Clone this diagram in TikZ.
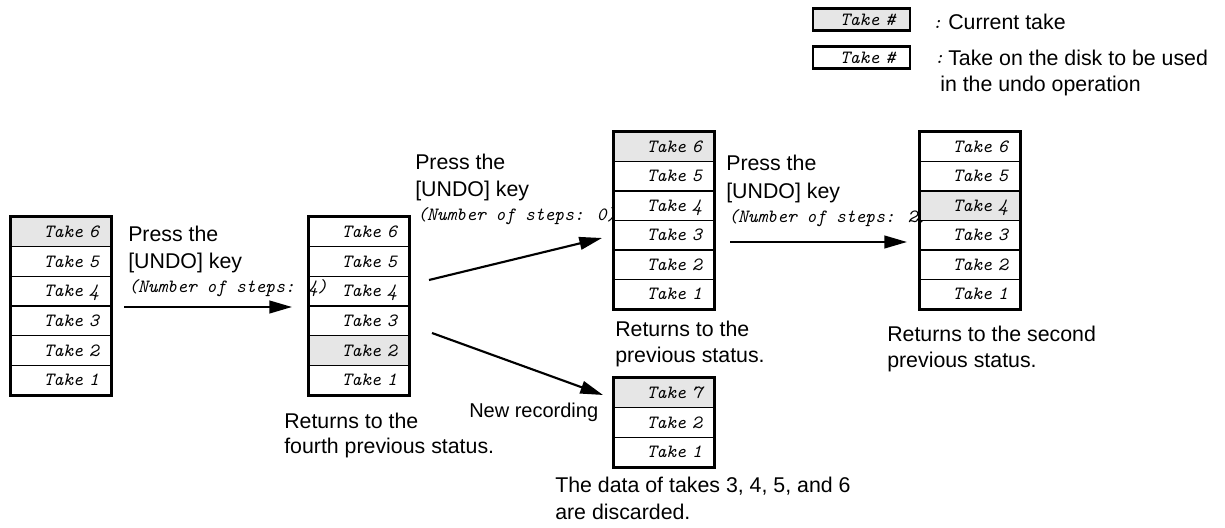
\documentclass[tikz,border=0pt]{standalone}
\usepackage{fontspec}
\setmainfont{Liberation Sans}
\usetikzlibrary{arrows.meta}
\definecolor{cellgray}{RGB}{230,230,230}
\tikzset{
  plain/.style={draw, line width=0.9pt, minimum width=75pt, minimum height=22.25pt,
    inner xsep=9pt, inner ysep=0pt, text width=57pt, align=right,
    font=\fontsize{14}{14}\selectfont\ttfamily\itshape, text height=8.4pt, text depth=0pt},
  cur/.style={plain, fill=cellgray},
  outer/.style={line width=2.2pt},
  legendbox/.style={plain, line width=2.2pt, minimum width=72.75pt, minimum height=17pt,
    text width=50.75pt, inner xsep=11pt},
  arr/.style={line width=1.6pt, -{Triangle[length=17pt,width=9.5pt]}},
  lbl/.style={anchor=base west, inner sep=0pt, font=\fontsize{16}{18}\selectfont},
  mono/.style={anchor=base west, inner sep=0pt, font=\fontsize{14}{15}\selectfont\ttfamily\itshape},
}
\begin{document}
\begin{tikzpicture}[x=0.75pt,y=-0.75pt]
\clip (0,0) rectangle (1225,528);
% ---- labels (drawn first, boxes lie over them)
\node[lbl] (p1a) at (128,241) {Press the};
\node[lbl] (p1b) at (128,268) {[UNDO] key};
\node[mono] (p1c) at (128,292) {(Number of steps: 4)};
\node[lbl] (p2a) at (415,169) {Press the};
\node[lbl] (p2b) at (415,196) {[UNDO] key};
\node[mono] (p2c) at (417,220) {(Number of steps: 0)};
\node[lbl] (p3a) at (726,171) {Press the};
\node[lbl] (p3b) at (726,198) {[UNDO] key};
\node[mono] (p3c) at (728,222) {(Number of steps: 2)};
\node[lbl] (r2a) at (284,428) {Returns to the};
\node[lbl] (r2b) at (284,453) {fourth previous status.};
\node[lbl] (r3a) at (615,336) {Returns to the};
\node[lbl] (r3b) at (615,362) {previous status.};
\node[lbl] (r4a) at (887,341) {Returns to the second};
\node[lbl] (r4b) at (887,367) {previous status.};
\node[lbl, font=\fontsize{15}{18}\selectfont] (nr) at (469,417) {New recording};
\node[lbl] (d1) at (555,492) {The data of takes 3, 4, 5, and 6};
\node[lbl] (d2) at (555,519) {are discarded.};
% ---- legend
\node[legendbox, fill=cellgray] (l1) at (861.5,19.5) {Take \#};
\node[legendbox] (l2) at (861.5,57.5) {Take \#};
\node[mono] (c1) at (932,29) {:};
\node[lbl] (t1) at (948,30) {Current take};
\node[mono] (c2) at (934,64) {:};
\node[lbl] (t2) at (948,65) {Take on the disk to be used};
\node[lbl] (t3) at (940,92) {in the undo operation};
% ---- box A
\foreach \i/\t/\s in {1/6/cur,2/5/plain,3/4/plain,4/3/plain,5/2/plain,6/1/plain}
  \node[\s] (a\i) at (61,{217+29.67*(\i-0.5)}) {Take \t};
\draw[outer] (a1.north west) rectangle (a6.south east);
% ---- box B
\foreach \i/\t/\s in {1/6/plain,2/5/plain,3/4/plain,4/3/plain,5/2/cur,6/1/plain}
  \node[\s] (b\i) at (359,{217+29.67*(\i-0.5)}) {Take \t};
\draw[outer] (b1.north west) rectangle (b6.south east);
% ---- box C
\foreach \i/\t/\s in {1/6/cur,2/5/plain,3/4/plain,4/3/plain,5/2/plain,6/1/plain}
  \node[\s] (c\i) at (664,{132+29.5*(\i-0.5)}) {Take \t};
\draw[outer] (c1.north west) rectangle (c6.south east);
% ---- box D
\foreach \i/\t/\s in {1/6/plain,2/5/plain,3/4/cur,4/3/plain,5/2/plain,6/1/plain}
  \node[\s] (d\i) at (970,{132+29.5*(\i-0.5)}) {Take \t};
\draw[outer] (d1.north west) rectangle (d6.south east);
% ---- box E
\foreach \i/\t/\s in {1/7/cur,2/2/plain,3/1/plain}
  \node[\s] (e\i) at (664,{378+29.67*(\i-0.5)}) {Take \t};
\draw[outer] (e1.north west) rectangle (e3.south east);
% ---- arrows
\coordinate (s1) at (124,307); \coordinate (f1) at (292,307);
\coordinate (s2) at (429,280); \coordinate (f2) at (602,238);
\coordinate (s3) at (730,242); \coordinate (f3) at (907,242);
\coordinate (s4) at (432,333); \coordinate (f4) at (603,395);
\draw[arr] (s1) -- (f1);
\draw[arr] (s2) -- (f2);
\draw[arr] (s3) -- (f3);
\draw[arr] (s4) -- (f4);
\end{tikzpicture}
\end{document}
